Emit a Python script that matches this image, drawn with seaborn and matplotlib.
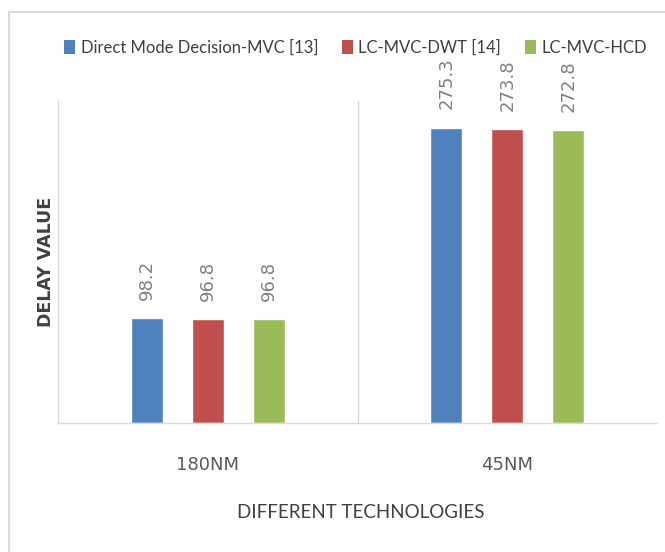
import seaborn as sns
import pandas as pd
import matplotlib.pyplot as plt
from matplotlib.lines import Line2D
from matplotlib.patches import Patch

# data
technologies = ["180NM", "45NM"]
methods = ["Direct Mode Decision-MVC [13]", "LC-MVC-DWT [14]", "LC-MVC-HCD"]
direct_mode_mvc = [98.2, 275.3]
lc_mvc_dwt = [96.8, 273.8]
lc_mvc_hcd = [96.8, 272.8]

colors = ["#4F81BD", "#C0504D", "#9BBB59"]
narrow = ["Lato", "DejaVu Sans"]

sns.set_theme(style="white")
plt.rcParams['font.family'] = ['DejaVu Sans']

rows = []
for m, vals in zip(methods, [direct_mode_mvc, lc_mvc_dwt, lc_mvc_hcd]):
    for t, v in zip(technologies, vals):
        rows.append({"tech": t, "method": m, "value": v})
df = pd.DataFrame(rows)

fig = plt.figure(figsize=(6.65, 5.52), dpi=100)
ax = fig.add_axes([58 / 665, 1 - 423 / 552, (657 - 58) / 665, (423 - 101) / 552])

sns.barplot(data=df, x="tech", y="value", hue="method", order=technologies,
            hue_order=methods, palette=colors, width=0.61, gap=0.475,
            saturation=1, legend=False, ax=ax, errorbar=None)

for cont in ax.containers:
    ax.bar_label(cont, fmt="%.1f", rotation=90, padding=13, fontsize=13, color="#808080")

ax.set_ylim(0, 300)
ax.set_xlim(-0.5, 1.5)
ax.axvline(0.5, color="#d9d9d9", linewidth=1)
ax.set_yticks([])
ax.tick_params(axis="x", length=0, pad=24, labelsize=13, labelcolor="#595959")

for side in ["top", "right"]:
    ax.spines[side].set_visible(False)
for side in ["left", "bottom"]:
    ax.spines[side].set_color("#d9d9d9")
    ax.spines[side].set_linewidth(1)

ax.set_ylabel("DELAY VALUE", fontsize=12.5, fontweight="bold", color="#404040", labelpad=2)
ax.set_xlabel("")
fig.text(361 / 665, 1 - 513 / 552, "DIFFERENT TECHNOLOGIES", ha="center", va="center",
         fontsize=13.5, color="#404040", family=narrow)

handles = [Patch(facecolor=c, edgecolor="none") for c in colors]
fig.legend(handles=handles, labels=methods, ncol=3, frameon=False,
           loc="center left", bbox_to_anchor=(64 / 665, 1 - 48 / 552),
           borderpad=0, borderaxespad=0,
           handlelength=0.66, handleheight=0.9, handletextpad=0.35, columnspacing=1.4,
           prop={"family": narrow, "size": 12}, labelcolor="#404040")

# outer chart border (partially clipped in the reference)
fig.add_artist(Line2D([9 / 665, 1], [1 - 12 / 552, 1 - 12 / 552], color="#d9d9d9", linewidth=1.5))
fig.add_artist(Line2D([9 / 665, 9 / 665], [0, 1 - 12 / 552], color="#d9d9d9", linewidth=1.5))

fig.savefig("out.png", dpi=100)
